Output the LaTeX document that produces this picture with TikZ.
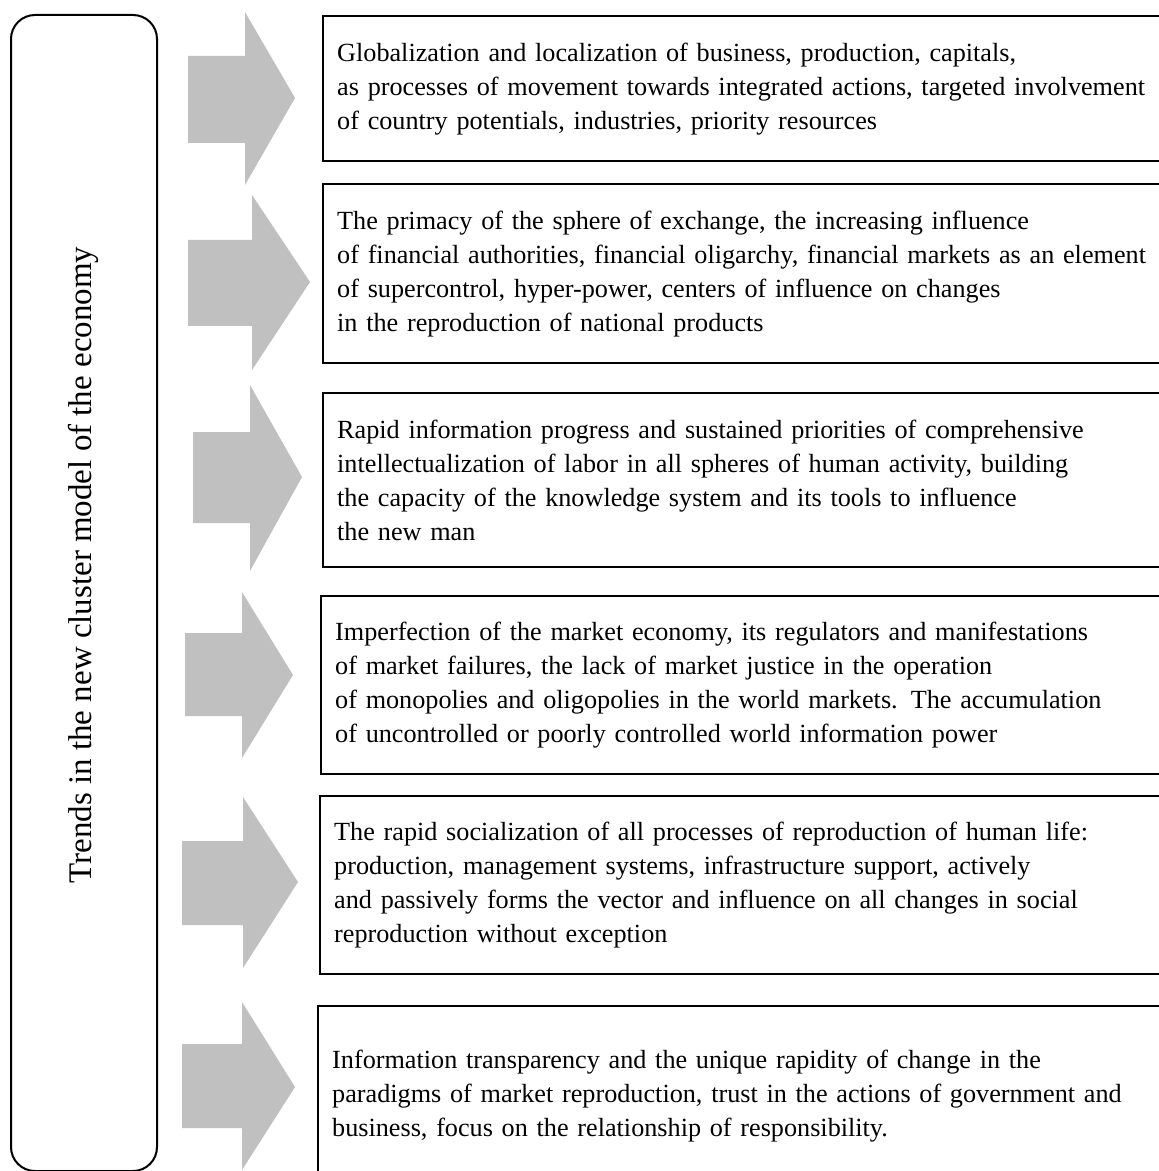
\documentclass[tikz,border=0pt]{standalone}
\usepackage{fontspec}
\setmainfont{Liberation Serif}
\usetikzlibrary{positioning}
\definecolor{arrowgray}{RGB}{192,192,192}

\begin{document}
\begin{tikzpicture}[x=0.5pt,y=-0.5pt,
    trendbox/.style={draw,line width=1.2pt,rectangle,anchor=north west,align=left,
        text width=412pt,inner xsep=7pt,inner ysep=0pt,
        font=\fontsize{13.1}{17}\selectfont},
    bigarrow/.style={fill=arrowgray}]

    \useasboundingbox (0,0) rectangle (1159,1171);

    %left frame
    \node [draw,line width=1pt,rounded corners=12pt,minimum width=73pt,minimum height=578pt,
        anchor=north west] (frame) at (10,14) {};
    \node [rotate=90,font=\fontsize{16.5}{20}\selectfont] (title) at (83,565)
        {Trends in the new cluster model of the economy};

    %boxes
    \node [trendbox,minimum height=72.5pt] (b1) at (322,15)
        {Globalization and localization of business, production, capitals,\\
         as processes of movement towards integrated actions, targeted involvement\\
         of country potentials, industries, priority resources};

    \node [trendbox,minimum height=89.5pt] (b2) at (322,183)
        {The primacy of the sphere of exchange, the increasing influence\\
         of financial authorities, financial oligarchy, financial markets as an element\\
         of supercontrol, hyper-power, centers of influence on changes\\
         in the reproduction of national products};

    \node [trendbox,minimum height=87pt] (b3) at (322,392)
        {Rapid information progress and sustained priorities of comprehensive\\
         intellectualization of labor in all spheres of human activity, building\\
         the capacity of the knowledge system and its tools to influence\\
         the new man};

    \node [trendbox,minimum height=89pt] (b4) at (320,595)
        {Imperfection of the market economy, its regulators and manifestations\\
         of market failures, the lack of market justice in the operation\\
         of monopolies and oligopolies in the world markets. The accumulation\\
         of uncontrolled or poorly controlled world information power};

    \node [trendbox,minimum height=89pt] (b5) at (319,795)
        {The rapid socialization of all processes of reproduction of human life:\\
         production, management systems, infrastructure support, actively\\
         and passively forms the vector and influence on all changes in social\\
         reproduction without exception};

    \node [trendbox,minimum height=90pt] (b6) at (317,1005)
        {Information transparency and the unique rapidity of change in the\\
         paradigms of market reproduction, trust in the actions of government and\\
         business, focus on the relationship of responsibility.};

    %arrows
    \fill [bigarrow] (188,56) -- (245,56) -- (245,12) -- (295,98) -- (245,185) -- (245,143) -- (188,143) -- cycle;
    \fill [bigarrow] (188,240) -- (252,240) -- (252,195) -- (310,282) -- (252,370) -- (252,326) -- (188,326) -- cycle;
    \fill [bigarrow] (193,432) -- (250,432) -- (250,385) -- (302,477) -- (250,571) -- (250,523) -- (193,523) -- cycle;
    \fill [bigarrow] (185,633) -- (242,633) -- (242,592) -- (293,675) -- (242,758) -- (242,716) -- (185,716) -- cycle;
    \fill [bigarrow] (182,841) -- (243,841) -- (243,797) -- (298,882) -- (243,968) -- (243,925) -- (182,925) -- cycle;
    \fill [bigarrow] (182,1044) -- (242,1044) -- (242,1002) -- (295,1087) -- (242,1170) -- (242,1128) -- (182,1128) -- cycle;
\end{tikzpicture}
\end{document}
